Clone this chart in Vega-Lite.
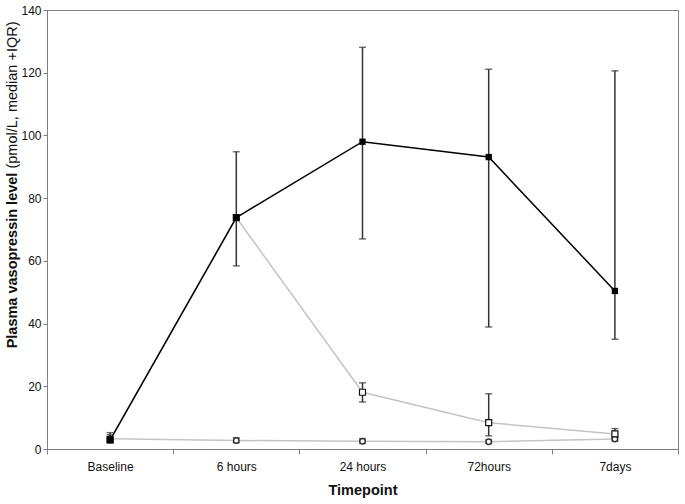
{
  "$schema": "https://vega.github.io/schema/vega-lite/v6.json",
  "width": 631,
  "height": 439,
  "autosize": "none",
  "padding": {"left": 47, "top": 10, "right": 7, "bottom": 55},
  "background": "white",
  "config": {
    "view": {"stroke": "#808080", "strokeWidth": 1},
    "font": "Liberation Sans",
    "axis": {"domainColor": "#808080", "tickColor": "#808080", "labelColor": "#111", "titleColor": "#111", "grid": false}
  },
  "data": {
    "values": [
      {"time": "Baseline", "series": "A", "value": 2.8, "lo": 2.0, "hi": 5.2},
      {"time": "6 hours", "series": "A", "value": 73.8, "lo": 58.4, "hi": 94.8},
      {"time": "24 hours", "series": "A", "value": 98.0, "lo": 67.0, "hi": 128.1},
      {"time": "72hours", "series": "A", "value": 93.1, "lo": 38.9, "hi": 121.1},
      {"time": "7days", "series": "A", "value": 50.4, "lo": 35.0, "hi": 120.6},
      {"time": "Baseline", "series": "B", "value": 3.0, "lo": null, "hi": null},
      {"time": "6 hours", "series": "B", "value": 73.8, "lo": null, "hi": null},
      {"time": "24 hours", "series": "B", "value": 18.1, "lo": 15.0, "hi": 21.1},
      {"time": "72hours", "series": "B", "value": 8.4, "lo": 4.2, "hi": 17.6},
      {"time": "7days", "series": "B", "value": 4.8, "lo": 3.5, "hi": 6.5},
      {"time": "Baseline", "series": "C", "value": 3.3, "lo": 2.5, "hi": 4.5},
      {"time": "6 hours", "series": "C", "value": 2.7, "lo": 2.0, "hi": 3.6},
      {"time": "24 hours", "series": "C", "value": 2.5, "lo": 1.8, "hi": 3.3},
      {"time": "72hours", "series": "C", "value": 2.3, "lo": 1.8, "hi": 2.9},
      {"time": "7days", "series": "C", "value": 3.2, "lo": 2.5, "hi": 4.0}
    ]
  },
  "encoding": {
    "x": {
      "field": "time",
      "type": "ordinal",
      "sort": ["Baseline", "6 hours", "24 hours", "72hours", "7days"],
      "scale": {"type": "band", "paddingInner": 0, "paddingOuter": 0},
      "axis": {
        "title": "Timepoint",
        "titleFontWeight": "bold",
        "titleFontSize": 14.5,
        "titlePadding": 11,
        "labelFontSize": 12,
        "labelAngle": 0,
        "labelPadding": 7,
        "tickBand": "extent",
        "tickSize": 5
      }
    }
  },
  "layer": [
    {
      "encoding": {
        "y": {
          "type": "quantitative",
          "scale": {"domain": [0, 140], "nice": false},
          "axis": {
            "values": [0, 20, 40, 60, 80, 100, 120, 140],
            "tickSize": 4,
            "labelPadding": 2,
            "labelFontSize": 12,
            "title": "Plasma vasopressin level",
            "titleFontWeight": "bold",
            "titleFontSize": 14.5,
            "titleAngle": -90,
            "titleAlign": "center",
            "titleBaseline": "middle",
            "titleX": -35,
            "titleY": 250
          }
        }
      },
      "layer": [
        {
          "transform": [{"filter": "datum.series !== 'A'"}],
          "mark": {"type": "line", "color": "#c4c4c4", "strokeWidth": 1.5},
          "encoding": {"y": {"field": "value"}, "detail": {"field": "series"}}
        },
        {
          "transform": [{"filter": "datum.series === 'A'"}],
          "mark": {"type": "line", "color": "#000000", "strokeWidth": 1.5},
          "encoding": {"y": {"field": "value"}}
        },
        {
          "transform": [{"filter": "isValid(datum.lo)"}],
          "mark": {"type": "rule", "color": "#333333", "strokeWidth": 1.5},
          "encoding": {"y": {"field": "lo"}, "y2": {"field": "hi"}}
        },
        {
          "transform": [{"filter": "isValid(datum.lo)"}],
          "mark": {"type": "tick", "color": "#333333", "thickness": 1.5, "size": 7},
          "encoding": {"y": {"field": "lo"}}
        },
        {
          "transform": [{"filter": "isValid(datum.hi)"}],
          "mark": {"type": "tick", "color": "#333333", "thickness": 1.5, "size": 7},
          "encoding": {"y": {"field": "hi"}}
        },
        {
          "transform": [{"filter": "datum.series === 'C'"}],
          "mark": {"type": "point", "shape": "circle", "filled": true, "fill": "#ffffff", "stroke": "#333333", "strokeWidth": 1.5, "size": 30, "opacity": 1},
          "encoding": {"y": {"field": "value"}}
        },
        {
          "transform": [{"filter": "datum.series === 'B'"}],
          "mark": {"type": "point", "shape": "square", "filled": true, "fill": "#ffffff", "stroke": "#111111", "strokeWidth": 1.2, "size": 36, "opacity": 1},
          "encoding": {"y": {"field": "value"}}
        },
        {
          "transform": [{"filter": "datum.series === 'A'"}],
          "mark": {"type": "point", "shape": "square", "filled": true, "fill": "#000000", "size": 40, "opacity": 1},
          "encoding": {"y": {"field": "value"}}
        }
      ]
    },
    {
      "mark": {"type": "point", "opacity": 0},
      "encoding": {
        "y": {
          "field": "value",
          "type": "quantitative",
          "scale": {"domain": [0, 140], "nice": false},
          "axis": {
            "orient": "left",
            "labels": false,
            "ticks": false,
            "domain": false,
            "offset": 0,
            "title": "(pmol/L, median +IQR)",
            "titleFontWeight": "normal",
            "titleFontSize": 14.5,
            "titleAngle": -90,
            "titleAlign": "center",
            "titleBaseline": "middle",
            "titleX": -35,
            "titleY": 84.5
          }
        }
      }
    }
  ],
  "resolve": {"scale": {"y": "independent"}}
}
